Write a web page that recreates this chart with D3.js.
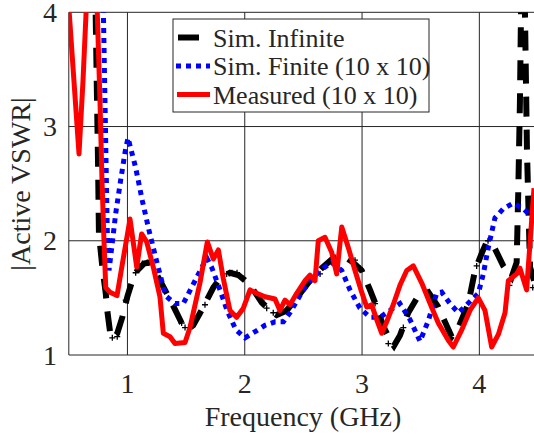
<!DOCTYPE html>
<html>
<head>
<meta charset="utf-8">
<script src="https://cdn.jsdelivr.net/npm/d3@7"></script>
<style>
    body { margin: 0; background: #fff; }
    text { font-family: "Liberation Serif", "Times New Roman", serif; fill: #262626; }
    .grid line { stroke: #262626; stroke-width: 1; }
</style>
</head>
<body>
<svg id="chart" width="534" height="435"></svg>
<script>
// frequency ticks (GHz) and VSWR ticks
const xTicks = [1, 2, 3, 4];
const yTicks = [1, 2, 3, 4];

const seriesNames = ["Sim. Infinite", "Sim. Finite (10 x 10)", "Measured (10 x 10)"];

// Sim. Infinite, [GHz, |VSWR|]
const simInfinite = [
    [0.70, 6.0], [0.729, 3.99], [0.738, 3.40], [0.749, 2.70], [0.757, 2.06], [0.786, 1.77],
    [0.815, 1.54], [0.828, 1.39], [0.857, 1.16], [0.885, 1.15], [0.913, 1.19], [0.956, 1.33],
    [0.999, 1.51], [1.041, 1.65], [1.084, 1.74], [1.141, 1.80], [1.192, 1.81], [1.220, 1.76],
    [1.278, 1.65], [1.335, 1.54], [1.405, 1.40], [1.462, 1.28], [1.505, 1.22], [1.561, 1.26],
    [1.647, 1.42], [1.732, 1.59], [1.789, 1.67], [1.874, 1.72], [1.945, 1.70], [2.017, 1.64],
    [2.073, 1.57], [2.145, 1.46], [2.215, 1.39], [2.272, 1.35], [2.358, 1.39], [2.443, 1.50],
    [2.556, 1.65], [2.656, 1.76], [2.755, 1.85], [2.840, 1.87], [2.925, 1.81], [2.997, 1.74],
    [3.068, 1.57], [3.125, 1.42], [3.182, 1.25], [3.239, 1.13], [3.272, 1.08], [3.323, 1.17],
    [3.394, 1.37], [3.480, 1.52], [3.565, 1.55], [3.650, 1.42], [3.707, 1.29], [3.764, 1.16],
    [3.821, 1.24], [3.906, 1.45], [3.963, 1.74], [4.020, 1.89], [4.063, 1.99], [4.133, 1.93],
    [4.204, 1.78], [4.275, 1.68], [4.318, 1.81], [4.332, 2.44], [4.346, 3.22], [4.355, 3.99],
    [4.372, 5.5], [4.389, 3.99], [4.406, 2.79], [4.432, 1.77], [4.466, 1.65]
];

// "+" markers along the infinite-array curve
const simInfiniteMarks = [
    [0.871, 1.15], [0.913, 1.16], [0.985, 1.48], [1.070, 1.72], [1.127, 1.80], [1.169, 1.81],
    [1.462, 1.28], [1.491, 1.24], [1.661, 1.44], [1.846, 1.71], [1.891, 1.72], [1.934, 1.72],
    [1.988, 1.67], [2.144, 1.48], [2.187, 1.41], [2.243, 1.37], [2.642, 1.71], [2.940, 1.83],
    [2.983, 1.76], [3.111, 1.45], [3.224, 1.10], [3.352, 1.24], [3.580, 1.51], [3.735, 1.22],
    [3.977, 1.78], [4.074, 2.00], [4.256, 1.61], [4.455, 1.59]
];

// Sim. Finite (10 x 10)
const simFinite = [
    [0.78, 5.0], [0.795, 4.0], [0.828, 2.09], [0.843, 1.74], [0.900, 2.24], [0.942, 2.53],
    [0.985, 2.81], [1.005, 2.90], [1.070, 2.64], [1.127, 2.35], [1.184, 2.09], [1.254, 1.80],
    [1.312, 1.57], [1.335, 1.51], [1.405, 1.45], [1.476, 1.45], [1.576, 1.65], [1.676, 1.85],
    [1.721, 1.76], [1.789, 1.57], [1.849, 1.39], [1.925, 1.22], [2.002, 1.15], [2.096, 1.21],
    [2.172, 1.26], [2.258, 1.29], [2.329, 1.29], [2.386, 1.37], [2.499, 1.57], [2.584, 1.68],
    [2.670, 1.76], [2.741, 1.81], [2.827, 1.74], [2.897, 1.57], [2.982, 1.41], [3.068, 1.33],
    [3.153, 1.33], [3.238, 1.39], [3.323, 1.45], [3.409, 1.31], [3.494, 1.12], [3.565, 1.30],
    [3.636, 1.54], [3.679, 1.55], [3.750, 1.45], [3.821, 1.37], [3.892, 1.44], [3.991, 1.54],
    [4.034, 1.71], [4.076, 1.94], [4.133, 2.20], [4.204, 2.28], [4.289, 2.33], [4.375, 2.28],
    [4.417, 2.24], [4.460, 2.18]
];

// Measured (10 x 10)
const measured = [
    [0.50, 4.05], [0.544, 3.40], [0.587, 2.76], [0.621, 3.40], [0.647, 3.99], [0.67, 4.6],
    [0.72, 4.6], [0.743, 3.99], [0.766, 3.22], [0.783, 2.53], [0.800, 2.00], [0.815, 1.59],
    [0.851, 1.55], [0.911, 1.52], [0.962, 1.83], [1.022, 2.19], [1.079, 1.77], [1.121, 2.06],
    [1.164, 1.99], [1.220, 1.77], [1.277, 1.51], [1.306, 1.19], [1.363, 1.16], [1.405, 1.10],
    [1.491, 1.11], [1.533, 1.24], [1.618, 1.63], [1.681, 1.99], [1.732, 1.84], [1.775, 1.92],
    [1.817, 1.67], [1.874, 1.39], [1.931, 1.33], [1.988, 1.41], [2.045, 1.57], [2.102, 1.54],
    [2.173, 1.51], [2.258, 1.49], [2.300, 1.39], [2.343, 1.48], [2.386, 1.44], [2.443, 1.54],
    [2.514, 1.65], [2.556, 1.70], [2.599, 1.65], [2.627, 2.00], [2.684, 2.03], [2.741, 1.90],
    [2.784, 1.71], [2.827, 2.12], [2.883, 1.94], [2.940, 1.74], [2.997, 1.55], [3.040, 1.42],
    [3.082, 1.44], [3.125, 1.31], [3.168, 1.19], [3.210, 1.29], [3.266, 1.44], [3.323, 1.61],
    [3.381, 1.74], [3.437, 1.78], [3.509, 1.63], [3.580, 1.45], [3.650, 1.28], [3.735, 1.13],
    [3.778, 1.07], [3.850, 1.22], [3.920, 1.39], [3.991, 1.50], [4.048, 1.39], [4.105, 1.07],
    [4.162, 1.18], [4.219, 1.37], [4.247, 1.65], [4.318, 1.71], [4.346, 1.76], [4.403, 1.57],
    [4.446, 2.18], [4.466, 2.46]
];

const svg = d3.select("#chart");
const plotLeft = 68.8, plotTop = 12.3, plotBottom = 355;

const x = d3.scaleLinear().domain([0.5, 4.5]).range([plotLeft, plotLeft + 4 * 117.3]);
const y = d3.scaleLinear().domain([1, 4]).range([plotBottom, plotTop]);

// grid
const grid = svg.append("g").attr("class", "grid");
grid.selectAll(".vx").data(xTicks).enter().append("line")
    .attr("x1", d => x(d)).attr("x2", d => x(d))
    .attr("y1", plotTop).attr("y2", plotBottom);
grid.selectAll(".hy").data(yTicks).enter().append("line")
    .attr("x1", plotLeft).attr("x2", 534)
    .attr("y1", d => y(d)).attr("y2", d => y(d));
grid.append("line").attr("x1", plotLeft).attr("x2", plotLeft).attr("y1", plotTop).attr("y2", plotBottom);

// tick labels
svg.append("g").selectAll("text").data(xTicks).enter().append("text")
    .attr("x", d => x(d)).attr("y", 393)
    .attr("text-anchor", "middle").style("font-size", "28px")
    .text(d => d);
svg.append("g").selectAll("text").data(yTicks).enter().append("text")
    .attr("x", 57).attr("y", d => y(d) + 9.5)
    .attr("text-anchor", "end").style("font-size", "28px")
    .text(d => d);

svg.append("text")
    .attr("x", 303).attr("y", 426)
    .attr("text-anchor", "middle").style("font-size", "28px")
    .text("Frequency (GHz)");
svg.append("text")
    .attr("transform", "translate(30,184) rotate(-90)")
    .attr("text-anchor", "middle").style("font-size", "28px")
    .text("|Active VSWR|");

// curves
svg.append("clipPath").attr("id", "plotclip")
    .append("rect").attr("x", plotLeft).attr("y", plotTop)
    .attr("width", 534 - plotLeft).attr("height", plotBottom - plotTop);

const plot = svg.append("g").attr("clip-path", "url(#plotclip)");
const line = d3.line().x(d => x(d[0])).y(d => y(d[1]));

plot.append("path").datum(simInfinite)
    .attr("d", line).attr("fill", "none")
    .attr("stroke", "#000").attr("stroke-width", 6)
    .attr("stroke-dasharray", "20,13");

plot.selectAll(".mk").data(simInfiniteMarks).enter().append("path")
    .attr("d", "M-3,0H3M0,-3V3")
    .attr("transform", d => `translate(${x(d[0])},${y(d[1])})`)
    .attr("stroke", "#000").attr("stroke-width", 1.3).attr("fill", "none");

plot.append("path").datum(simFinite)
    .attr("d", line).attr("fill", "none")
    .attr("stroke", "#0000ff").attr("stroke-width", 5)
    .attr("stroke-dasharray", "5,5");

plot.append("path").datum(measured)
    .attr("d", line).attr("fill", "none")
    .attr("stroke", "#ff0000").attr("stroke-width", 5)
    .attr("stroke-linejoin", "round");

// legend
const legend = svg.append("g");
legend.append("rect")
    .attr("x", 173).attr("y", 19).attr("width", 256).attr("height", 93)
    .attr("fill", "#fff").attr("stroke", "#262626").attr("stroke-width", 1);

const rows = [
    {stroke: "#000", width: 6, dash: null, x1: 178, x2: 199},
    {stroke: "#0000ff", width: 5, dash: "5,5", x1: 176, x2: 210},
    {stroke: "#ff0000", width: 5, dash: null, x1: 177, x2: 210}
];
rows.forEach((r, i) => {
    const cy = 37.5 + i * 28.5;
    legend.append("line")
        .attr("x1", r.x1).attr("x2", r.x2).attr("y1", cy).attr("y2", cy)
        .attr("stroke", r.stroke).attr("stroke-width", r.width)
        .attr("stroke-dasharray", r.dash);
    legend.append("text")
        .attr("x", 213).attr("y", cy + 9)
        .style("font-size", "26px")
        .text(seriesNames[i]);
});
</script>
</body>
</html>
